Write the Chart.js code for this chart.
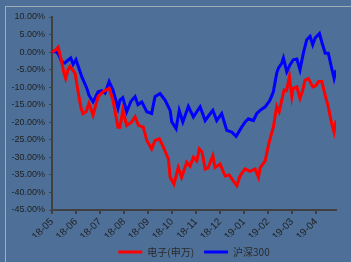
<!DOCTYPE html>
<html>
<head>
<meta charset="utf-8">
<script src="https://cdn.jsdelivr.net/npm/chart.js@4/dist/chart.umd.min.js"></script>
<style>
    html, body { margin: 0; padding: 0; }
    body { width: 351px; height: 262px; background: #4e7098; position: relative; overflow: hidden; }
    #frame { position: absolute; left: 5px; top: 6px; right: -5px; bottom: -5px; border-left: 1px solid #a3acb8; border-top: 1px solid #a3acb8; }
    canvas { position: absolute; left: 0; top: 0; }
</style>
</head>
<body>
<div id="frame"></div>
<canvas id="perfChart" width="351" height="262"></canvas>
<script>
// x = months since 2018-05, y = cumulative return (%)
const monthLabels = ['18-05', '18-06', '18-07', '18-08', '18-09', '18-10', '18-11', '18-12', '19-01', '19-02', '19-03', '19-04'];

const elecX = [0, 0.13, 0.26, 0.40, 0.50, 0.57, 0.67, 0.75, 0.96, 1.10, 1.21, 1.29, 1.42, 1.54, 1.71, 1.92, 2.13, 2.38, 2.54, 2.75,
    2.83, 2.95, 3.11, 3.32, 3.46, 3.60, 3.80, 3.95, 4.15, 4.29, 4.47, 4.64, 4.85, 4.92, 5.08, 5.26, 5.40, 5.61, 5.75, 5.89,
    6.03, 6.14, 6.25, 6.38, 6.50, 6.70, 6.79, 7.00, 7.21, 7.38, 7.55, 7.70, 7.83, 8.04, 8.25, 8.46, 8.60, 8.67, 8.88, 9.00,
    9.13, 9.22, 9.36, 9.46, 9.57, 9.67, 9.77, 9.89, 9.99, 10.05, 10.20, 10.33, 10.44, 10.54, 10.68, 10.86, 11.00, 11.10, 11.24, 11.38,
    11.51, 11.65, 11.75, 11.83];
const elecY = [0, 0.5, 1.4, -2.7, -6, -7.5, -5, -4.1, -6, -11.8, -16, -17.5, -17, -14.6, -18, -12.7, -11.3, -10.3, -13.7, -21.4,
    -21.4, -16.6, -20.9, -19.9, -18.5, -20.9, -21.4, -25.2, -27.6, -25.2, -24.7, -27.1, -30.5, -35.7, -37.6, -32.9, -35.7, -31.4, -32.5, -30,
    -31, -27.6, -28.5, -33.3, -33, -29.5, -32.9, -31.9, -35.3, -35, -36.7, -38.1, -35.3, -33.3, -34, -33.3, -35.7, -33, -31, -27,
    -23.5, -21.4, -15.5, -17, -13.7, -10.8, -11, -7, -12.7, -10.3, -9.9, -13.2, -11, -8, -7.5, -9.9, -9.5, -8.4, -8.4, -12.3,
    -15.6, -20.4, -22.8, -19.5];

const hs300X = [0, 0.13, 0.26, 0.40, 0.54, 0.63, 0.78, 0.88, 1.00, 1.24, 1.45, 1.54, 1.71, 1.92, 2.08, 2.21, 2.38, 2.54, 2.75, 2.83,
    2.95, 3.11, 3.29, 3.46, 3.58, 3.74, 3.95, 4.15, 4.29, 4.50, 4.71, 4.92, 4.99, 5.17, 5.30, 5.45, 5.68, 5.89, 6.03, 6.17,
    6.38, 6.54, 6.70, 6.86, 7.07, 7.28, 7.49, 7.67, 7.90, 8.04, 8.18, 8.39, 8.53, 8.67, 8.88, 9.00, 9.08, 9.22, 9.36, 9.43,
    9.57, 9.64, 9.78, 9.92, 10.05, 10.20, 10.33, 10.47, 10.61, 10.75, 10.86, 10.96, 11.14, 11.25, 11.38, 11.51, 11.65, 11.75, 11.83];
const hs300Y = [0, 0.3, -0.5, -2.7, -3.1, -2.5, -1.7, -3.5, -2.2, -7, -10.3, -12.3, -14.2, -11.3, -11, -11.7, -8.4, -10.8, -16, -13.7,
    -13, -17, -14, -12.7, -15, -14.2, -17, -17.5, -12.7, -11.8, -13.7, -16.6, -19.9, -21.8, -16.6, -19.9, -15.5, -18.5, -17, -15.6,
    -19.5, -18, -16.6, -19.5, -17.5, -22.3, -22.8, -24, -21.4, -20, -19, -19.5, -17.5, -16.6, -15.6, -14.5, -13.7, -11.3, -6, -4.6,
    -3.2, -1.7, -5.6, -3.6, -2.2, -2, -5.1, -0.3, 3.5, 4.5, 2.1, 4, 5.3, 2.6, -0.3, -0.3, -4.6, -7.5, -5.1];

const toPoints = (xs, ys) => xs.map((x, i) => ({ x: x, y: ys[i] }));

const axisColor = '#404040';

new Chart(document.getElementById('perfChart'), {
    type: 'line',
    data: {
        datasets: [{
            label: '电子(申万)',
            data: toPoints(elecX, elecY),
            borderColor: '#ff0000',
            backgroundColor: '#ff0000',
            borderWidth: 3,
            pointRadius: 0,
            tension: 0
        }, {
            label: '沪深300',
            data: toPoints(hs300X, hs300Y),
            borderColor: '#0000ff',
            backgroundColor: '#0000ff',
            borderWidth: 3,
            pointRadius: 0,
            tension: 0
        }]
    },
    options: {
        responsive: false,
        animation: false,
        devicePixelRatio: 1,
        layout: {
            padding: { left: 0, top: 17, right: 15, bottom: -5 }
        },
        plugins: {
            legend: {
                position: 'bottom',
                fullSize: false,
                labels: {
                    usePointStyle: true,
                    pointStyle: 'line',
                    pointStyleWidth: 24,
                    padding: 10,
                    color: '#2a2a2a',
                    font: { family: 'Noto Sans CJK SC', size: 10 }
                }
            },
            tooltip: { enabled: false }
        },
        scales: {
            x: {
                type: 'linear',
                min: 0,
                max: 11.83,
                afterBuildTicks: (axis) => {
                    axis.ticks = monthLabels.map((_, i) => ({ value: i }));
                },
                afterFit: (axis) => { axis.height = 27; },
                ticks: {
                    autoSkip: false,
                    maxRotation: 45,
                    minRotation: 45,
                    padding: 2,
                    color: '#1f1f1f',
                    font: { family: 'Liberation Sans', size: 10 },
                    callback: (value) => monthLabels[value] ?? ''
                },
                grid: {
                    drawOnChartArea: false,
                    tickLength: 4,
                    color: axisColor,
                    lineWidth: 2
                },
                border: { color: axisColor, width: 2 }
            },
            y: {
                min: -45,
                max: 10,
                afterFit: (axis) => { axis.width = 52; },
                ticks: {
                    stepSize: 5,
                    padding: 4,
                    color: '#1f1f1f',
                    font: { family: 'Liberation Sans', size: 9 },
                    callback: (value) => value.toFixed(2) + '%'
                },
                grid: {
                    drawOnChartArea: false,
                    tickLength: 3,
                    color: axisColor,
                    lineWidth: 1
                },
                border: { color: axisColor, width: 2 }
            }
        }
    }
});
</script>
</body>
</html>
